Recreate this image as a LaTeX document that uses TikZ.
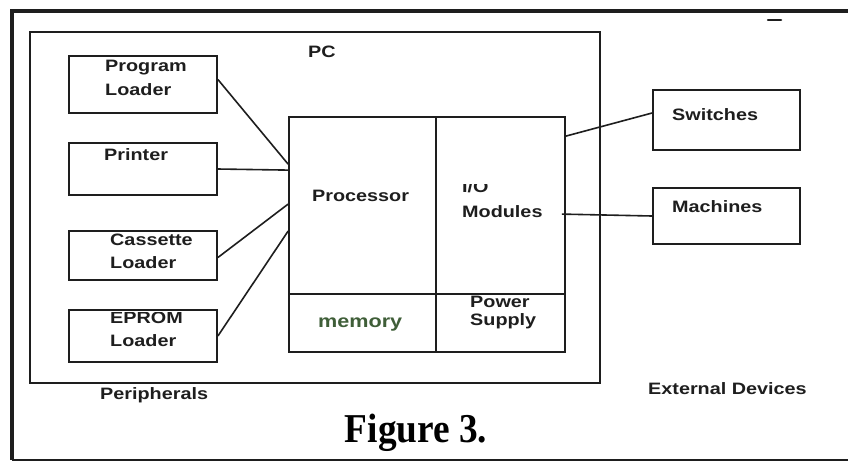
\documentclass[tikz,border=0pt]{standalone}
\usepackage{fontspec}
\setmainfont{Liberation Sans}
\newfontfamily\labfont[FakeStretch=1.2]{Liberation Sans}
\newfontfamily\capfont[FakeStretch=0.91]{Liberation Serif}
\definecolor{ink}{HTML}{1E1E1E}
\definecolor{memgreen}{HTML}{3F5E38}
\begin{document}
\begin{tikzpicture}[x=1pt,y=-1pt,
  box/.style={draw=ink,line width=1.8pt,minimum width=#1,inner sep=0pt},
  lbl/.style={anchor=west,inner sep=0pt,text=ink,font=\labfont\bfseries\fontsize{16.5}{18}\selectfont},
  wire/.style={draw=ink,line width=1.6pt}]
\useasboundingbox (0,0) rectangle (848,464);
\fill[white] (0,0) rectangle (848,464);

% outer frame (open on the right)
\draw[ink,line width=4pt] (848,11) -- (12,11) -- (12,460);
\draw[ink,line width=2pt] (12,460) -- (848,460);
\draw[ink,line width=2.5pt,line cap=round] (768,20) -- (781,20);

% PC enclosure
\node[box=570pt,minimum height=351pt] (pc) at (315,207.5) {};
\node[lbl] (pclbl) at (308,52) {PC};

% peripheral boxes
\node[box=148pt,minimum height=57pt] (prog) at (143,84.5) {};
\node[box=148pt,minimum height=52pt] (prn)  at (143,169) {};
\node[box=148pt,minimum height=49pt] (cas)  at (143,255.5) {};
\node[box=148pt,minimum height=52pt] (eprom) at (143,336) {};

\node[lbl] (prog1) at (105,68) {Program};
\node[lbl] (prog2) at (105,90) {Loader};
\node[lbl] (prn1)  at (104,155) {Printer};
\node[lbl] (cas1)  at (110,240) {Cassette};
\node[lbl] (cas2)  at (110,263) {Loader};
\begin{scope}
  \clip (70,312) rectangle (216,360);
  \node[lbl] (eprom1) at (110,318) {EPROM};
\end{scope}
\node[lbl] (eprom2) at (110,341) {Loader};

% controller block
\node[box=147pt,minimum height=177pt] (proc) at (362.5,205.5) {};
\node[box=129pt,minimum height=177pt] (io)   at (500.5,205.5) {};
\node[box=147pt,minimum height=58pt] (mem)  at (362.5,323) {};
\node[box=129pt,minimum height=58pt] (pwr)  at (500.5,323) {};

\node[lbl] (proclbl) at (312,196) {Processor};
\begin{scope}
  \clip (437,184) rectangle (564,200);
  \node[lbl] (io1) at (462,187) {I/O};
\end{scope}
\node[lbl] (io2) at (462,212) {Modules};
\node[lbl,text=memgreen,font=\labfont\bfseries\fontsize{18}{20}\selectfont] (memlbl) at (318,325) {memory};
\node[lbl] (pwr1) at (470,302) {Power};
\node[lbl] (pwr2) at (470,321) {Supply};

% external devices
\node[box=147pt,minimum height=60pt] (sw)  at (726.5,120) {};
\node[box=147pt,minimum height=56pt] (mac) at (726.5,216) {};
\node[lbl] (swlbl)  at (672,115) {Switches};
\node[lbl] (maclbl) at (672,207) {Machines};

\node[lbl] (extlbl) at (648,389) {External Devices};
\node[lbl] (perlbl) at (100,395) {Peripherals};

% connectors
\coordinate (p1) at ([yshift=-48pt]proc.north west);
\coordinate (p2) at ([yshift=-54pt]proc.north west);
\coordinate (p3) at ([yshift=-88pt]proc.north west);
\coordinate (p4) at ([yshift=-115pt]proc.north west);
\draw[wire] ([yshift=5pt]prog.east) -- (p1);
\draw[wire] (prn.east) -- (p2);
\draw[wire] ([yshift=-2pt]cas.east) -- (p3);
\draw[wire] (eprom.east) -- (p4);
\draw[wire] ([yshift=-20pt]io.north east) -- ([yshift=7pt]sw.west);
\draw[wire] ([yshift=-98pt,xshift=-4pt]io.north east) -- (mac.west);

% caption
\node[inner sep=0pt,text=black,font=\capfont\bfseries\fontsize{41}{44}\selectfont] (cap) at (416,433) {Figure 3.};
\end{tikzpicture}
\end{document}
